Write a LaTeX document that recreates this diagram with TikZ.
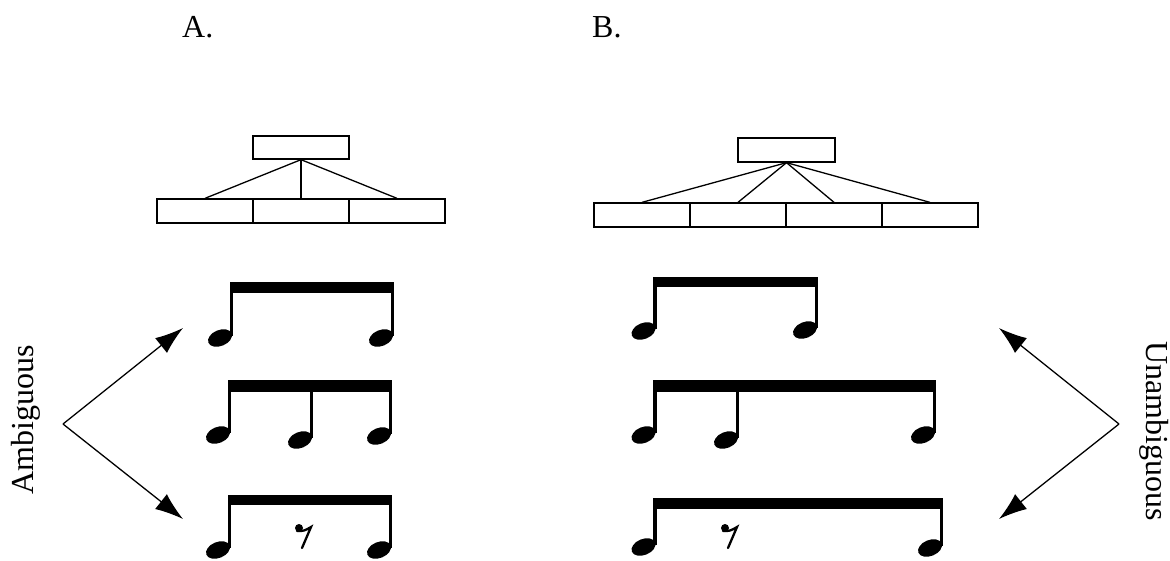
\documentclass[tikz,border=0pt]{standalone}
\usepackage{fontspec}
\setmainfont{Liberation Serif}
\usetikzlibrary{arrows.meta}
\newcommand{\enote}[2]{% stem x, head y  (beam top given by \beamtop)
  \fill[rotate around={22:(#1-11.5,#2)}] (#1-11.5,#2) ellipse [x radius=12.5pt, y radius=8pt];
  \fill (#1-1.8,#2-2) rectangle (#1+1.8,\beamtop);}
\newcommand{\erest}[2]{% dot centre
  \fill (#1,#2) circle [radius=4pt];
  \draw[line width=2.3pt, line cap=round] (#1-2,#2+3) .. controls (#1+5,#2+3) .. (#1+12,#2-1) -- (#1+3,#2+20);}
\begin{document}
\begin{tikzpicture}[x=1pt,y=-1pt,
  lbl/.style={font=\fontsize{32pt}{38pt}\selectfont, inner sep=0pt},
  cell/.style={draw, line width=1.3pt, minimum width=96pt, minimum height=24pt, inner sep=0pt},
  branch/.style={line width=1.3pt},
  ptr/.style={line width=1.3pt, -{Latex[length=28pt,width=19pt]}}]
\useasboundingbox (0,0) rectangle (1170,560);
% titles
\node[lbl, anchor=base west] (ta) at (182,37) {A.};
\node[lbl, anchor=base west] (tb) at (592,37) {B.};
% tree A
\node[cell, minimum height=23pt] (At) at (301,147.5) {};
\node[cell] (A1) at (205,211) {};
\node[cell] (A2) at (301,211) {};
\node[cell] (A3) at (397,211) {};
\draw[branch] (At.south) -- (A1.north);
\draw[branch] (At.south) -- (A2.north);
\draw[branch] (At.south) -- (A3.north);
% tree B
\node[cell, minimum width=97pt] (Bt) at (786.5,150) {};
\node[cell] (B1) at (642,215) {};
\node[cell] (B2) at (738,215) {};
\node[cell] (B3) at (834,215) {};
\node[cell] (B4) at (930,215) {};
\draw[branch] (Bt.south) -- (B1.north);
\draw[branch] (Bt.south) -- (B2.north);
\draw[branch] (Bt.south) -- (B3.north);
\draw[branch] (Bt.south) -- (B4.north);
% rhythms A
\def\beamtop{282}
\fill (230,282) rectangle (394,293);
\enote{231.5}{338}\enote{392.5}{338}
\def\beamtop{380}
\fill (228,380) rectangle (392,392);
\enote{229.5}{435}\enote{311.5}{440}\enote{390.5}{436}
\def\beamtop{495}
\fill (228,495) rectangle (392,505);
\enote{229.5}{550}\enote{390.5}{550}
\erest{299}{528}
% rhythms B
\def\beamtop{277}
\fill (653,277) rectangle (818,287);
\enote{655}{331}\enote{816.5}{330}
\def\beamtop{380}
\fill (653,380) rectangle (936,392);
\enote{655}{435}\enote{737.5}{440}\enote{934.5}{435}
\def\beamtop{498}
\fill (653,498) rectangle (943,509);
\enote{655}{547}\enote{941.5}{548}
\erest{725}{528}
% side labels and arrows
\node[lbl, rotate=90, anchor=base] (amb) at (33,420) {Ambiguous};
\node[lbl, rotate=-90, anchor=base] (unamb) at (1146,431) {Unambiguous};
\coordinate (lv) at (63,424);
\coordinate (lu) at (183,328);
\coordinate (ld) at (183,519);
\coordinate (rv) at (1119,424);
\coordinate (ru) at (999,328);
\coordinate (rd) at (999,519);
\draw[ptr] (lv) -- (lu);
\draw[ptr] (lv) -- (ld);
\draw[ptr] (rv) -- (ru);
\draw[ptr] (rv) -- (rd);
\end{tikzpicture}
\end{document}
